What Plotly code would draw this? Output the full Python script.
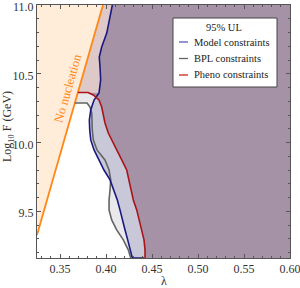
import numpy as np
import plotly.graph_objects as go

# ---------------- data ----------------
lam_range = [0.325, 0.60]
logF_range = [9.16, 11.0]

# No-nucleation boundary (orange line) endpoints
orange_lam = [0.325, 0.3967]
orange_logF = [9.328, 11.0]

# Model constraints (blue)
model_lam = [0.4069, 0.4043, 0.4008, 0.3953, 0.3927, 0.3935, 0.3942, 0.3924, 0.3870,
             0.3834, 0.3819, 0.3823, 0.3834, 0.3870, 0.3924, 0.3978, 0.4044, 0.4087,
             0.4123, 0.4152, 0.4177, 0.4207, 0.4236, 0.4261, 0.4286]
model_logF = [11.0, 10.913, 10.796, 10.695, 10.622, 10.549, 10.455, 10.36, 10.309,
              10.237, 10.164, 10.091, 10.019, 9.946, 9.873, 9.800, 9.728, 9.655,
              9.582, 9.510, 9.437, 9.364, 9.292, 9.219, 9.16]
model_bottom_end = 0.4413

# BPL constraints (gray)
bpl_top = 10.287
bpl_lam = [0.3794, 0.3826, 0.3845, 0.3851, 0.3862, 0.3902, 0.3989, 0.4033, 0.4051,
           0.4044, 0.4033, 0.4033, 0.4062, 0.4116, 0.4188, 0.4242, 0.4269]
bpl_logF = [10.287, 10.258, 10.215, 10.091, 10.019, 9.946, 9.873, 9.800, 9.728,
            9.655, 9.582, 9.510, 9.437, 9.364, 9.292, 9.219, 9.16]

# Pheno constraints (red)
pheno_top = 10.364
pheno_lam = [0.3804, 0.3862, 0.3924, 0.3953, 0.3971, 0.3989, 0.4025, 0.4076, 0.4114,
             0.4171, 0.4225, 0.4250, 0.4272, 0.4297, 0.4334, 0.4362, 0.4388, 0.4413,
             0.4424, 0.4424]
pheno_logF = [10.364, 10.346, 10.309, 10.258, 10.186, 10.142, 10.069, 9.997, 9.946,
              9.873, 9.800, 9.728, 9.655, 9.582, 9.510, 9.437, 9.364, 9.292,
              9.219, 9.16]

x_ticks = [0.35, 0.40, 0.45, 0.50, 0.55, 0.60]
y_ticks = [9.5, 10.0, 10.5, 11.0]
legend_title = "95% UL"
legend_names = ["Model constraints", "BPL constraints", "Pheno constraints"]

# ---------------- styles ----------------
C_PEACH = "rgb(255,236,217)"
C_LGRAY = "rgb(233,233,235)"
C_LAV = "rgb(200,200,216)"
C_PURPLE = "rgb(166,146,166)"
C_PINK = "rgb(222,200,200)"
C_ORANGE = "rgb(255,135,20)"
C_BLUE = "rgb(25,25,130)"
C_GRAY = "rgb(100,100,100)"
C_RED = "rgb(170,20,25)"
LEG_COLORS = ["rgb(90,90,180)", "rgb(100,100,100)", "rgb(210,30,30)"]
FONT = "Liberation Serif"

xmin, xmax = lam_range
ymin, ymax = logF_range


def orange_at(F):
    (l0, l1), (f0, f1) = orange_lam, orange_logF
    return l0 + (F - f0) * (l1 - l0) / (f1 - f0)


fig = go.Figure()


def poly(xs, ys, color):
    fig.add_trace(go.Scatter(x=list(xs), y=list(ys), mode="lines", fill="toself",
                             fillcolor=color, line=dict(width=0), hoverinfo="skip",
                             showlegend=False))


# peach: left of orange line
poly([orange_lam[0], orange_lam[1], xmin], [orange_logF[0], orange_logF[1], ymax], C_PEACH)

# BPL region (light gray)
bx = [orange_at(bpl_top)] + bpl_lam + [xmax, xmax, orange_lam[1]]
by = [bpl_top] + bpl_logF + [ymin, ymax, ymax]
poly(bx, by, C_LGRAY)

# Model region (lavender)
mx = model_lam + [xmax, xmax]
my = model_logF + [ymin, ymax]
poly(mx, my, C_LAV)

# Pheno region (purple)
px_ = [orange_at(pheno_top)] + pheno_lam + [xmax, xmax, orange_lam[1]]
py_ = [pheno_top] + pheno_logF + [ymin, ymax, ymax]
poly(px_, py_, C_PURPLE)

# Pheno only (above pheno top, left of model line): pink
mask = [f >= pheno_top - 0.01 for f in model_logF]
blx = [l for l, m in zip(model_lam, mask) if m]
bly = [f for f, m in zip(model_logF, mask) if m]
poly([orange_at(pheno_top), orange_lam[1]] + blx,
     [pheno_top, orange_logF[1]] + bly, C_PINK)


# lines
def line(xs, ys, color, w=1.6):
    fig.add_trace(go.Scatter(x=list(xs), y=list(ys), mode="lines",
                             line=dict(color=color, width=w), hoverinfo="skip",
                             showlegend=False))


line(orange_lam, orange_logF, C_ORANGE, 1.8)
line([orange_at(bpl_top)] + bpl_lam, [bpl_top] + bpl_logF, C_GRAY)
line(model_lam + [model_bottom_end], model_logF + [ymin], C_BLUE)
line([orange_at(pheno_top)] + pheno_lam, [pheno_top] + pheno_logF, C_RED)

# ---------------- layout ----------------
L, R, T, B = 37, 10, 5, 30
W, H = 300, 288
pw, ph = W - L - R, H - T - B


def pxx(x):
    return (x - L) / pw


def pyy(y):
    return (H - B - y) / ph


axis_common = dict(showline=True, mirror="allticks", linecolor="#555", linewidth=1,
                   ticks="inside", ticklen=4, tickcolor="#555", tickwidth=1,
                   showgrid=False, zeroline=False, automargin=False,
                   ticklabeloverflow="allow",
                   tickfont=dict(family=FONT, size=12, color="#333"))

fig.update_xaxes(range=lam_range, tickvals=x_ticks, tickformat=".2f",
                 minor=dict(dtick=0.01, ticklen=2, tickcolor="#555", ticks="inside",
                            showgrid=False),
                 **axis_common)
fig.update_yaxes(range=logF_range, tickvals=y_ticks, tickformat=".1f",
                 ticklabelshift=2,
                 minor=dict(dtick=0.1, tick0=9.0, ticklen=2, tickcolor="#555", ticks="inside",
                            showgrid=False),
                 **axis_common)


def ann(text, x, y, size, color="#222", xanchor="center", angle=0, xref="paper", yref="paper"):
    return dict(text=text, x=x, y=y, xref=xref, yref=yref, showarrow=False,
                xanchor=xanchor, yanchor="middle", textangle=angle,
                font=dict(family=FONT, size=size, color=color))


annotations = [
    ann("No nucleation", 0.3592, 10.393, 12.5, C_ORANGE, angle=-74, xref="x", yref="y"),
    ann("Log<sub>10</sub> F (GeV)", pxx(8), pyy(127), 12, "#333", angle=-90),
    ann("λ", pxx(164), pyy(281), 12, "#333"),
    ann(legend_title, pxx(224), pyy(27), 10.5),
]
shapes = [dict(type="rect", xref="paper", yref="paper", x0=pxx(173), x1=pxx(277),
               y0=pyy(87), y1=pyy(18), fillcolor="white", line=dict(color="#444", width=1),
               layer="above")]
rows = [42, 58.5, 75]
for name, yy, col in zip(legend_names, rows, LEG_COLORS):
    shapes.append(dict(type="line", xref="paper", yref="paper", x0=pxx(179), x1=pxx(188),
                       y0=pyy(yy), y1=pyy(yy), line=dict(color=col, width=1.3), layer="above"))
    annotations.append(ann(name, pxx(192), pyy(yy), 10.5, xanchor="left"))

fig.update_layout(width=W, height=H, margin=dict(l=L, r=R, t=T, b=B),
                  plot_bgcolor="white", paper_bgcolor="white",
                  annotations=annotations, shapes=shapes, showlegend=False)

fig.write_html("out.html", config={"displayModeBar": False, "staticPlot": True},
               post_script="document.body.style.margin='0';document.body.style.overflow='hidden';")
